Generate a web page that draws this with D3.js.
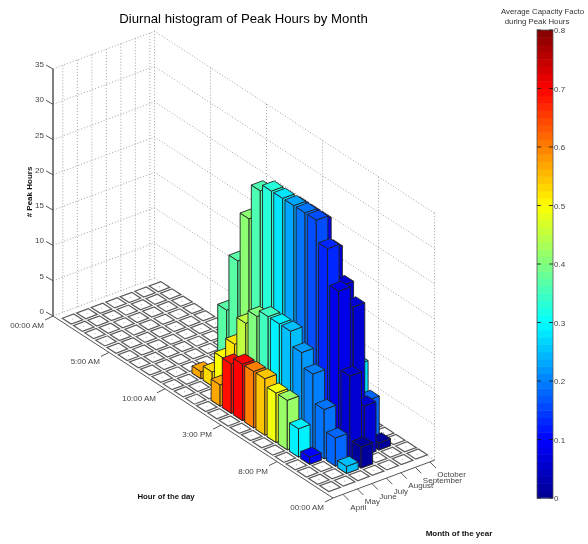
<!DOCTYPE html>
<html>
<head>
<meta charset="utf-8">
<script src="https://d3js.org/d3.v7.min.js"></script>
<style>
  html, body { margin: 0; padding: 0; background: #fff; }
  text { font-family: "Liberation Sans", Arial, sans-serif; }
  svg { filter: blur(0.35px); display: block; }
</style>
</head>
<body>
<div id="chart"></div>
<script>
// tick labels
var months = ["April", "May", "June", "July", "August", "September", "October"];
var hourTicks = [0, 5, 10, 15, 20, 25];
var hourLabels = ["00:00 AM", "5:00 AM", "10:00 AM", "3:00 PM", "8:00 PM", "00:00 AM"];
var zTicks = [0, 5, 10, 15, 20, 25, 30, 35];
var cfTicks = [0, 0.1, 0.2, 0.3, 0.4, 0.5, 0.6, 0.7, 0.8];

// # peak hours, one value per hour 1..24
var aprilHours = [0,0,0,0,0,0,0,0,0,0,0,0,0,0,0,0,0,0,0,0,0,0,0,0];
var mayHours   = [0,0,0,0,0,0,0,0,0,0,0,0,3,7,8,8,8,7,7,4,1,0,0,0];
var juneHours  = [0,0,0,0,0,0,0,0,0,1,2,5,8,12,14,15,15,15,13,11,7,4,1,0];
var julyHours  = [0,0,0,0,0,0,0,0,0,0,10,18,25,30,31,31,31,31,31,28,23,12,3,0];
var augustHours = [0,0,0,0,0,0,0,0,0,0,0,0,8,15,24,29,29,29,26,22,20,7,0,0];
var septemberHours = [0,0,0,0,0,0,0,0,0,0,0,0,0,0,0,0,0,0,14,10,6,1,0,0];
var octoberHours = [0,0,0,0,0,0,0,0,0,0,0,0,0,0,0,0,0,0,0,0,0,0,0,0];

// average capacity factor, same layout
var aprilCF = [0,0,0,0,0,0,0,0,0,0,0,0,0,0,0,0,0,0,0,0,0,0,0,0];
var mayCF   = [0,0,0,0,0,0,0,0,0,0,0,0,.57,.69,.70,.60,.545,.49,.42,.29,.10,0,0,0];
var juneCF  = [0,0,0,0,0,0,0,0,0,.57,.53,.50,.52,.45,.40,.35,.29,.25,.22,.20,.19,.18,.25,0];
var julyCF  = [0,0,0,0,0,0,0,0,0,0,.37,.37,.41,.36,.33,.28,.23,.19,.16,.13,.08,.06,.01,0];
var augustCF = [0,0,0,0,0,0,0,0,0,0,0,0,.30,.25,.20,.15,.12,.09,.07,.06,.06,.06,0,0];
var septemberCF = [0,0,0,0,0,0,0,0,0,0,0,0,0,0,0,0,0,0,.28,.28,.18,.01,0,0];
var octoberCF = [0,0,0,0,0,0,0,0,0,0,0,0,0,0,0,0,0,0,0,0,0,0,0,0];

var hoursByMonth = [aprilHours, mayHours, juneHours, julyHours, augustHours, septemberHours, octoberHours];
var cfByMonth = [aprilCF, mayCF, juneCF, julyCF, augustCF, septemberCF, octoberCF];

var width = 588, height = 544;
var svg = d3.select("#chart").append("svg").attr("width", width).attr("height", height);

// the oblique projection: one scale per screen direction
var hourX = d3.scaleLinear().domain([0, 25]).range([0, 280]);
var hourY = d3.scaleLinear().domain([0, 25]).range([0, 182]);
var monthMin = -0.68, monthMax = 6.32;
var monthX = d3.scaleLinear().domain([monthMin, monthMax]).range([0, 101.5]);
var monthY = d3.scaleLinear().domain([monthMin, monthMax]).range([0, -37.8]);
var zY = d3.scaleLinear().domain([0, 35]).range([0, -247]);
var origin = [53, 316];

function project(h, m, z) {
  return [origin[0] + hourX(h) + monthX(m), origin[1] + hourY(h) + monthY(m) + zY(z || 0)];
}

function poly(pts) {
  return d3.line()(pts) + "Z";
}

// jet colormap, 64 levels like the colorbar
var jet = d3.scaleLinear()
  .domain([0, 0.125, 0.375, 0.625, 0.875, 1])
  .range(["#00008f", "#0000ff", "#00ffff", "#ffff00", "#ff0000", "#800000"])
  .clamp(true);
var cfScale = d3.scaleLinear().domain([0, 0.8]).range([0, 1]);

// walls
var grid = svg.append("g")
  .attr("fill", "none")
  .attr("stroke", "#8a8a8a")
  .attr("stroke-width", 0.8)
  .attr("stroke-dasharray", "1,2");

zTicks.forEach(function(z) {
  grid.append("path").attr("d", d3.line()([
    project(0, monthMin, z), project(0, monthMax, z), project(25, monthMax, z)
  ]));
});
d3.range(months.length).forEach(function(m) {
  grid.append("path").attr("d", d3.line()([project(0, m, 0), project(0, m, 35)]));
});
hourTicks.forEach(function(h) {
  grid.append("path").attr("d", d3.line()([project(h, monthMax, 0), project(h, monthMax, 35)]));
});

// draw a bar or a flat tile
var w = 0.4;
function drawCell(g, h, m, z, color) {
  var a = [h - w, m - w], b = [h + w, m - w], c = [h + w, m + w], d = [h - w, m + w];
  var top = [a, b, c, d].map(function(p) { return project(p[0], p[1], z); });
  if (z > 0) {
    g.append("path")
      .attr("d", poly([project(a[0], a[1], 0), project(b[0], b[1], 0), project(b[0], b[1], z), project(a[0], a[1], z)]))
      .attr("fill", color).attr("stroke", "#222").attr("stroke-width", 0.9);
    g.append("path")
      .attr("d", poly([project(b[0], b[1], 0), project(c[0], c[1], 0), project(c[0], c[1], z), project(b[0], b[1], z)]))
      .attr("fill", color).attr("stroke", "#222").attr("stroke-width", 0.9);
    g.append("path")
      .attr("d", poly(top))
      .attr("fill", color).attr("stroke", "#222").attr("stroke-width", 0.9);
  } else {
    g.append("path")
      .attr("d", poly(top))
      .attr("fill", "#fff").attr("stroke", "#5a5a5a").attr("stroke-width", 1.2);
    var ctr = project(h, m, 0);
    g.append("circle").attr("cx", ctr[0]).attr("cy", ctr[1]).attr("r", 0.5).attr("fill", "#999");
  }
}

// back to front: far months first, early hours first
var cells = svg.append("g");
d3.range(months.length - 1, -1, -1).forEach(function(m) {
  hoursByMonth[m].forEach(function(count, i) {
    drawCell(cells, i + 0.9, m - 0.03, 0);
  });
});
d3.range(months.length - 1, -1, -1).forEach(function(m) {
  hoursByMonth[m].forEach(function(count, i) {
    if (count > 0) drawCell(cells, i + 0.9, m - 0.03, count, jet(cfScale(cfByMonth[m][i])));
  });
});

// axes
var axes = svg.append("g").attr("stroke", "#555").attr("stroke-width", 1).attr("fill", "none");
axes.append("path").attr("stroke-width", 1.5).attr("d", d3.line()([project(0, monthMin, 0), project(0, monthMin, 35)]));
axes.append("path").attr("d", d3.line()([project(0, monthMin, 0), project(25, monthMin, 0)]));
axes.append("path").attr("d", d3.line()([project(25, monthMin, 0), project(25, monthMax, 0)]));

var labelColor = "#444";
var tickSize = 8;

zTicks.forEach(function(z) {
  var p = project(0, monthMin, z);
  axes.append("path").attr("d", d3.line()([p, [p[0] - 7, p[1] - 4]]));
  svg.append("text").attr("x", p[0] - 9).attr("y", p[1] - 2)
    .attr("text-anchor", "end").attr("font-size", tickSize).attr("fill", labelColor).text(z);
});

hourTicks.forEach(function(h, i) {
  var p = project(h, monthMin, 0);
  axes.append("path").attr("d", d3.line()([p, [p[0] - 8, p[1] + 4]]));
  svg.append("text").attr("x", p[0] - 9).attr("y", p[1] + 12)
    .attr("text-anchor", "end").attr("font-size", tickSize).attr("fill", labelColor).text(hourLabels[i]);
});

months.forEach(function(name, m) {
  var p = project(25, m, 0);
  axes.append("path").attr("d", d3.line()([p, [p[0] + 6, p[1] + 6]]));
  svg.append("text").attr("x", p[0] + 7.5).attr("y", p[1] + 15.5)
    .attr("font-size", tickSize).attr("fill", labelColor).text(name);
});

// titles
svg.append("text").attr("x", 243.5).attr("y", 23).attr("text-anchor", "middle")
  .attr("font-size", 13.2).attr("fill", "#000").text("Diurnal histogram of Peak Hours by Month");
svg.append("text").attr("transform", "translate(32,192) rotate(-90)").attr("text-anchor", "middle")
  .attr("font-size", 8).attr("font-weight", "bold").attr("fill", "#111").text("# Peak Hours");
svg.append("text").attr("x", 166).attr("y", 499).attr("text-anchor", "middle")
  .attr("font-size", 7.8).attr("font-weight", "bold").attr("fill", "#111").text("Hour of the day");
svg.append("text").attr("x", 459).attr("y", 536).attr("text-anchor", "middle")
  .attr("font-size", 8).attr("font-weight", "bold").attr("fill", "#111").text("Month of the year");

// colorbar
var barY = d3.scaleLinear().domain([0, 0.8]).range([498, 30]);
var barX = 537, barW = 16;
var levels = d3.range(64);
svg.append("g").selectAll("rect").data(levels).enter().append("rect")
  .attr("x", barX).attr("width", barW)
  .attr("y", function(d) { return barY((d + 1) / 64 * 0.8); })
  .attr("height", function(d) { return barY(d / 64 * 0.8) - barY((d + 1) / 64 * 0.8) + 0.5; })
  .attr("fill", function(d) { return jet((d + 0.5) / 64); });
svg.append("rect").attr("x", barX).attr("y", 30).attr("width", barW).attr("height", 468)
  .attr("fill", "none").attr("stroke", "#555").attr("stroke-width", 0.8);
cfTicks.forEach(function(t) {
  var y = barY(t);
  svg.append("path").attr("stroke", "#111").attr("stroke-width", 0.8)
    .attr("d", d3.line()([[barX, y], [barX + 4, y]]));
  svg.append("path").attr("stroke", "#111").attr("stroke-width", 0.8)
    .attr("d", d3.line()([[barX + barW - 4, y], [barX + barW, y]]));
  svg.append("text").attr("x", barX + barW + 1).attr("y", y + 3)
    .attr("font-size", tickSize).attr("fill", labelColor).text(t);
});

// the reference cuts the long colorbar title at its right edge
svg.append("clipPath").attr("id", "cut").append("rect")
  .attr("x", 480).attr("y", 0).attr("width", 104).attr("height", 40);
svg.append("text").attr("x", 501).attr("y", 14).attr("clip-path", "url(#cut)")
  .attr("font-size", 7.8).attr("fill", "#333").text("Average Capacity Factor");
svg.append("text").attr("x", 537).attr("y", 24).attr("text-anchor", "middle")
  .attr("font-size", 7.8).attr("fill", "#333").text("during Peak Hours");
</script>
</body>
</html>
